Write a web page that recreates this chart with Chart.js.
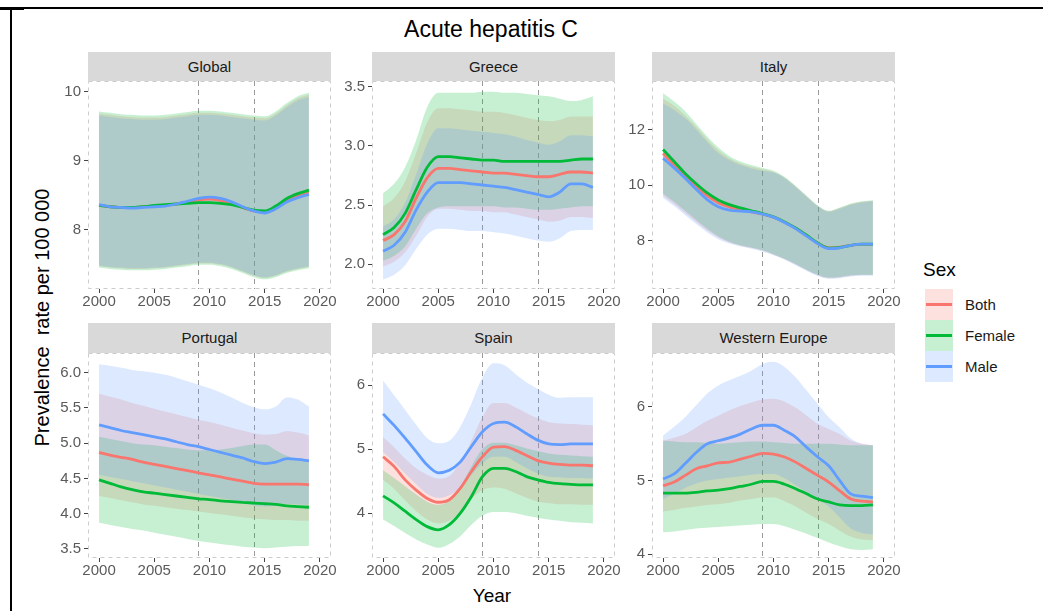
<!DOCTYPE html>
<html>
<head>
<meta charset="utf-8">
<script src="https://cdn.jsdelivr.net/npm/chart.js@4.4.1/dist/chart.umd.min.js"></script>
<style>
  body { margin: 0; background: #fff; width: 1043px; height: 611px; overflow: hidden; position: relative;
         font-family: "Liberation Sans", Arial, sans-serif; }
  .abs { position: absolute; }
  .strip { position: absolute; background: #d9d9d9; color: #1a1a1a; font-size: 15px; text-align: center; }
  canvas { position: absolute; }
  .lbl { position: absolute; color: #1a1a1a; font-size: 15px; white-space: pre; }
</style>
</head>
<body>
<div class="abs" style="left:0;top:7px;width:1043px;height:2px;background:#000"></div>
<div class="abs" style="left:0;top:9px;width:24px;height:1px;background:#000"></div>
<div class="abs" style="left:10px;top:7px;width:2px;height:604px;background:#000"></div>
<div class="abs" id="title" style="left:291px;top:16px;width:400px;text-align:center;font-size:23px;color:#000">Acute hepatitis C</div>
<div class="abs" style="left:-108px;top:306px;width:300px;text-align:center;font-size:20px;color:#000;white-space:pre;transform:rotate(-90deg)">Prevalence  rate per 100 000</div>
<div class="abs" style="left:442px;top:585px;width:100px;text-align:center;font-size:19px;color:#000">Year</div>
<div class="abs" style="left:923px;top:259px;font-size:19px;color:#000">Sex</div>

<script>
const years = [2000,2001,2002,2003,2004,2005,2006,2007,2008,2009,2010,2011,2012,2013,2014,2015,2016,2017,2018,2019];
const xTicks = [2000, 2005, 2010, 2015, 2020];
const refYears = [2009, 2014];
const sexes = ['Both', 'Female', 'Male'];

// Global
const globalTicks = [8, 9, 10];
const globalBoth     = [8.35,8.33,8.32,8.32,8.33,8.34,8.35,8.37,8.40,8.43,8.44,8.42,8.38,8.32,8.27,8.25,8.32,8.42,8.48,8.53];
const globalBothLo   = [7.47,7.45,7.44,7.43,7.43,7.44,7.45,7.47,7.49,7.51,7.51,7.49,7.45,7.39,7.33,7.30,7.33,7.39,7.43,7.46];
const globalBothHi   = [9.68,9.66,9.64,9.63,9.62,9.62,9.63,9.65,9.67,9.69,9.69,9.68,9.66,9.64,9.62,9.61,9.68,9.80,9.90,9.95];
const globalFemale   = [8.35,8.33,8.32,8.32,8.33,8.35,8.36,8.37,8.38,8.39,8.39,8.38,8.36,8.32,8.28,8.27,8.34,8.45,8.52,8.57];
const globalFemaleLo = [7.45,7.43,7.42,7.41,7.41,7.42,7.43,7.45,7.47,7.49,7.49,7.47,7.43,7.37,7.31,7.28,7.31,7.37,7.41,7.44];
const globalFemaleHi = [9.71,9.69,9.67,9.66,9.65,9.65,9.66,9.68,9.70,9.72,9.72,9.71,9.69,9.67,9.65,9.64,9.71,9.83,9.93,9.98];
const globalMale     = [8.36,8.33,8.32,8.31,8.32,8.33,8.34,8.37,8.41,8.45,8.47,8.45,8.40,8.33,8.27,8.24,8.30,8.40,8.46,8.51];
const globalMaleLo   = [7.48,7.46,7.45,7.44,7.44,7.45,7.46,7.48,7.50,7.52,7.52,7.50,7.46,7.40,7.34,7.31,7.34,7.40,7.44,7.47];
const globalMaleHi   = [9.65,9.63,9.61,9.60,9.59,9.59,9.60,9.62,9.64,9.66,9.66,9.65,9.63,9.61,9.59,9.58,9.65,9.77,9.87,9.92];

// Greece
const greeceTicks = [2.0, 2.5, 3.0, 3.5];
const greeceBoth     = [2.20,2.25,2.36,2.56,2.73,2.81,2.81,2.80,2.79,2.78,2.77,2.77,2.76,2.75,2.74,2.74,2.76,2.78,2.78,2.77];
const greeceBothLo   = [1.98,2.02,2.10,2.24,2.40,2.47,2.47,2.46,2.45,2.45,2.44,2.44,2.42,2.40,2.38,2.36,2.37,2.40,2.40,2.39];
const greeceBothHi   = [2.49,2.56,2.70,2.94,3.20,3.32,3.32,3.31,3.30,3.29,3.29,3.28,3.26,3.24,3.22,3.21,3.22,3.25,3.25,3.25];
const greeceFemale   = [2.25,2.31,2.43,2.63,2.82,2.91,2.91,2.90,2.89,2.88,2.88,2.87,2.87,2.87,2.87,2.87,2.87,2.88,2.89,2.89];
const greeceFemaleLo = [2.03,2.07,2.15,2.30,2.43,2.48,2.49,2.49,2.49,2.49,2.49,2.48,2.48,2.47,2.46,2.46,2.47,2.48,2.49,2.49];
const greeceFemaleHi = [2.60,2.68,2.82,3.05,3.33,3.45,3.45,3.45,3.45,3.46,3.46,3.45,3.45,3.44,3.43,3.42,3.40,3.38,3.39,3.42];
const greeceMale     = [2.11,2.16,2.27,2.46,2.61,2.69,2.69,2.69,2.68,2.67,2.66,2.65,2.63,2.61,2.59,2.57,2.61,2.68,2.68,2.65];
const greeceMaleLo   = [1.87,1.91,1.99,2.13,2.25,2.30,2.30,2.29,2.28,2.28,2.27,2.26,2.24,2.22,2.20,2.19,2.22,2.28,2.29,2.29];
const greeceMaleHi   = [2.32,2.38,2.52,2.76,3.02,3.15,3.15,3.14,3.13,3.12,3.11,3.10,3.08,3.05,3.03,3.01,3.04,3.09,3.09,3.08];

// Italy
const italyTicks = [8, 10, 12];
const italyBoth     = [11.14,10.72,10.30,9.94,9.62,9.37,9.22,9.12,9.04,8.96,8.85,8.67,8.45,8.19,7.92,7.75,7.77,7.84,7.87,7.87];
const italyBothLo   = [9.62,9.32,9.00,8.68,8.37,8.11,7.94,7.82,7.74,7.64,7.50,7.34,7.15,6.94,6.76,6.66,6.68,6.74,6.77,6.77];
const italyBothHi   = [13.10,12.85,12.50,12.10,11.65,11.25,10.97,10.78,10.66,10.57,10.48,10.27,9.95,9.60,9.26,9.06,9.18,9.32,9.40,9.44];
const italyFemale   = [11.28,10.85,10.42,10.05,9.72,9.47,9.30,9.18,9.08,8.98,8.86,8.68,8.46,8.20,7.92,7.74,7.76,7.84,7.88,7.88];
const italyFemaleLo = [9.70,9.40,9.08,8.75,8.43,8.16,7.97,7.84,7.76,7.66,7.52,7.36,7.17,6.96,6.78,6.68,6.70,6.76,6.78,6.78];
const italyFemaleHi = [13.30,13.00,12.65,12.20,11.75,11.35,11.05,10.85,10.72,10.62,10.52,10.30,9.98,9.62,9.28,9.08,9.20,9.34,9.42,9.46];
const italyMale     = [10.96,10.62,10.25,9.85,9.48,9.22,9.10,9.07,9.04,8.96,8.85,8.66,8.44,8.17,7.90,7.72,7.75,7.84,7.88,7.88];
const italyMaleLo   = [9.55,9.25,8.93,8.60,8.30,8.06,7.90,7.80,7.72,7.62,7.48,7.32,7.12,6.92,6.74,6.64,6.66,6.72,6.75,6.75];
const italyMaleHi   = [12.93,12.70,12.40,12.00,11.55,11.15,10.90,10.72,10.60,10.52,10.45,10.25,9.93,9.57,9.24,9.04,9.15,9.30,9.38,9.42];

// Portugal
const portugalTicks = [3.5, 4.0, 4.5, 5.0, 5.5, 6.0];
const portugalBoth     = [4.87,4.83,4.80,4.77,4.73,4.70,4.67,4.64,4.61,4.58,4.55,4.52,4.49,4.46,4.43,4.42,4.42,4.42,4.42,4.41];
const portugalBothLo   = [4.25,4.22,4.19,4.16,4.13,4.11,4.09,4.07,4.05,4.03,4.01,3.99,3.97,3.95,3.93,3.92,3.91,3.91,3.90,3.90];
const portugalBothHi   = [5.70,5.66,5.62,5.57,5.53,5.49,5.45,5.41,5.37,5.33,5.30,5.26,5.22,5.18,5.14,5.12,5.13,5.17,5.15,5.11];
const portugalFemale   = [4.48,4.43,4.38,4.34,4.31,4.29,4.27,4.25,4.23,4.21,4.20,4.18,4.17,4.16,4.15,4.14,4.13,4.11,4.10,4.09];
const portugalFemaleLo = [3.87,3.84,3.81,3.78,3.76,3.73,3.70,3.67,3.64,3.61,3.59,3.57,3.55,3.53,3.52,3.51,3.52,3.53,3.54,3.54];
const portugalFemaleHi = [5.09,5.06,5.03,5.00,4.98,4.97,4.95,4.93,4.91,4.90,4.90,4.91,4.93,4.96,4.98,4.98,4.90,4.82,4.77,4.73];
const portugalMale     = [5.26,5.22,5.18,5.15,5.12,5.09,5.06,5.02,4.98,4.95,4.91,4.87,4.83,4.79,4.74,4.71,4.73,4.78,4.77,4.75];
const portugalMaleLo   = [4.55,4.52,4.49,4.46,4.43,4.40,4.37,4.34,4.31,4.28,4.25,4.22,4.19,4.16,4.12,4.10,4.11,4.14,4.13,4.12];
const portugalMaleHi   = [6.12,6.10,6.07,6.04,6.02,6.00,5.97,5.93,5.88,5.83,5.78,5.72,5.65,5.57,5.51,5.48,5.52,5.65,5.62,5.52];

// Spain
const spainTicks = [4, 5, 6];
const spainBoth     = [4.88,4.73,4.52,4.36,4.23,4.17,4.21,4.39,4.65,4.88,5.03,5.04,4.98,4.90,4.82,4.78,4.76,4.75,4.75,4.74];
const spainBothLo   = [4.52,4.38,4.20,4.03,3.90,3.84,3.88,4.02,4.22,4.36,4.40,4.38,4.31,4.24,4.18,4.16,4.14,4.14,4.13,4.13];
const spainBothHi   = [5.19,5.03,4.85,4.70,4.60,4.54,4.58,4.80,5.13,5.50,5.72,5.72,5.65,5.56,5.48,5.42,5.40,5.39,5.38,5.37];
const spainFemale   = [4.27,4.16,4.03,3.90,3.79,3.74,3.82,4.00,4.26,4.57,4.70,4.70,4.65,4.57,4.52,4.48,4.46,4.45,4.44,4.44];
const spainFemaleLo = [3.90,3.80,3.69,3.59,3.51,3.46,3.52,3.64,3.82,3.96,4.02,4.02,4.00,3.96,3.93,3.90,3.88,3.86,3.85,3.84];
const spainFemaleHi = [4.67,4.55,4.42,4.29,4.18,4.13,4.20,4.42,4.73,5.00,5.10,5.10,5.06,5.01,4.97,4.93,4.91,4.90,4.89,4.88];
const spainMale     = [5.55,5.37,5.17,4.96,4.75,4.63,4.67,4.80,5.04,5.27,5.40,5.42,5.35,5.24,5.14,5.08,5.07,5.08,5.08,5.08];
const spainMaleLo   = [4.95,4.80,4.62,4.45,4.30,4.24,4.28,4.40,4.60,4.78,4.88,4.88,4.80,4.70,4.62,4.57,4.56,4.55,4.55,4.54];
const spainMaleHi   = [6.07,5.84,5.61,5.38,5.17,5.09,5.13,5.35,5.71,6.12,6.34,6.31,6.17,6.04,5.94,5.85,5.80,5.81,5.81,5.81];

// Western Europe
const westTicks = [4, 5, 6];
const westBoth     = [4.93,4.98,5.07,5.16,5.20,5.24,5.25,5.29,5.33,5.37,5.36,5.32,5.25,5.16,5.07,4.98,4.86,4.75,4.72,4.71];
const westBothLo   = [4.58,4.60,4.63,4.65,4.67,4.68,4.70,4.73,4.75,4.77,4.77,4.72,4.65,4.56,4.48,4.41,4.32,4.24,4.20,4.19];
const westBothHi   = [5.54,5.58,5.63,5.72,5.81,5.88,5.95,6.01,6.06,6.10,6.11,6.07,5.99,5.88,5.77,5.70,5.63,5.54,5.50,5.48];
const westFemale   = [4.83,4.83,4.83,4.84,4.86,4.87,4.89,4.92,4.95,4.99,4.99,4.95,4.89,4.82,4.75,4.71,4.67,4.66,4.66,4.67];
const westFemaleLo = [4.30,4.31,4.33,4.35,4.36,4.37,4.38,4.39,4.40,4.41,4.41,4.38,4.33,4.28,4.22,4.16,4.11,4.07,4.06,4.07];
const westFemaleHi = [5.54,5.53,5.52,5.52,5.51,5.50,5.51,5.52,5.53,5.53,5.52,5.51,5.50,5.50,5.50,5.50,5.49,5.48,5.48,5.48];
const westMale     = [5.02,5.09,5.23,5.38,5.50,5.54,5.58,5.63,5.70,5.75,5.75,5.68,5.59,5.45,5.32,5.20,5.00,4.82,4.79,4.77];
const westMaleLo   = [4.75,4.82,4.90,4.96,5.00,5.02,5.04,5.06,5.08,5.09,5.09,5.03,4.94,4.84,4.74,4.65,4.50,4.35,4.29,4.27];
const westMaleHi   = [5.61,5.73,5.86,6.02,6.18,6.29,6.36,6.42,6.49,6.58,6.61,6.54,6.40,6.22,6.04,5.86,5.72,5.57,5.50,5.48];

const sexColors = ['248,118,109', '0,186,56', '97,156,255'];
const FONT = '"Liberation Sans", Arial, sans-serif';
const padL = 52, padT = 8, padR = 16, padB = 24;

const panelDeco = {
  id: 'panelDeco',
  beforeDatasetsDraw(chart) {
    const { ctx, chartArea: a, scales: { x } } = chart;
    ctx.save();
    ctx.lineWidth = 1;
    ctx.setLineDash([4, 4]);
    ctx.strokeStyle = '#cccccc';
    ctx.strokeRect(a.left + 0.5, a.top + 0.5, a.right - a.left - 1, a.bottom - a.top - 1);
    ctx.setLineDash([5, 4]);
    ctx.strokeStyle = '#9a9a9a';
    refYears.forEach(yr => {
      const px = Math.round(x.getPixelForValue(yr)) + 0.5;
      ctx.beginPath();
      ctx.moveTo(px, a.top);
      ctx.lineTo(px, a.bottom);
      ctx.stroke();
    });
    ctx.restore();
  }
};

function makePanel(p) {
  const strip = document.createElement('div');
  strip.className = 'strip';
  Object.assign(strip.style, {
    left: p.L + 'px', top: p.S + 'px', width: (p.R - p.L) + 'px',
    height: (p.T - p.S) + 'px', lineHeight: (p.T - p.S) + 'px'
  });
  strip.textContent = p.title;
  document.body.appendChild(strip);

  const w = p.R - p.L + padL + padR, h = p.B - p.T + padT + padB;
  const cv = document.createElement('canvas');
  cv.width = w; cv.height = h;
  Object.assign(cv.style, { left: (p.L - padL) + 'px', top: (p.T - padT) + 'px', width: w + 'px', height: h + 'px' });
  document.body.appendChild(cv);

  const pts = arr => years.map((x, k) => ({ x, y: arr[k] }));
  const datasets = [];
  p.series.forEach((s, i) => {
    datasets.push({ data: pts(s[1]), borderWidth: 0, pointRadius: 0, fill: false,
      cubicInterpolationMode: 'monotone', order: 13 - i });
    datasets.push({ data: pts(s[2]), borderWidth: 0, pointRadius: 0, fill: '-1',
      backgroundColor: `rgba(${sexColors[i]},0.22)`, cubicInterpolationMode: 'monotone', order: 13 - i });
  });
  p.series.forEach((s, i) => {
    datasets.push({ data: pts(s[0]), borderColor: `rgb(${sexColors[i]})`, borderWidth: 2.8,
      pointRadius: 0, fill: false, cubicInterpolationMode: 'monotone', order: 3 - i });
  });

  const axisCommon = {
    border: { display: false },
    grid: { drawOnChartArea: false, drawTicks: true, tickLength: 4, tickColor: '#444', tickWidth: 1 },
  };

  new Chart(cv, {
    type: 'line',
    data: { datasets },
    options: {
      responsive: false, animation: false, devicePixelRatio: 1,
      layout: { padding: { left: 0, top: padT, right: padR, bottom: 0 } },
      plugins: { legend: { display: false }, tooltip: { enabled: false } },
      scales: {
        x: {
          ...axisCommon, type: 'linear', min: 1999, max: 2021,
          afterBuildTicks: s => { s.ticks = xTicks.map(v => ({ value: v })); },
          afterFit: s => { s.height = padB; s.paddingLeft = 0; s.paddingRight = 0; },
          ticks: { color: '#5a5a5a', font: { size: 15, family: FONT }, padding: 0, autoSkip: false,
            maxRotation: 0, callback: v => String(v) }
        },
        y: {
          ...axisCommon, type: 'linear', min: p.yMin, max: p.yMax,
          afterBuildTicks: s => { s.ticks = p.yTicks.map(v => ({ value: v })); },
          afterFit: s => { s.width = padL; s.paddingTop = 0; s.paddingBottom = 0; },
          ticks: { color: '#5a5a5a', font: { size: 15, family: FONT }, padding: 3, autoSkip: false,
            callback: v => v.toFixed(p.dec) }
        }
      }
    },
    plugins: [panelDeco]
  });
}

const row1 = { S: 52, T: 81, B: 289 }, row2 = { S: 323, T: 353, B: 558 };
const col1 = { L: 88, R: 331 }, col2 = { L: 372, R: 615 }, col3 = { L: 652, R: 895 };

[
  { ...row1, ...col1, title: 'Global', yMin: 7.14, yMax: 10.15, yTicks: globalTicks, dec: 0,
    series: [[globalBoth, globalBothLo, globalBothHi], [globalFemale, globalFemaleLo, globalFemaleHi], [globalMale, globalMaleLo, globalMaleHi]] },
  { ...row1, ...col2, title: 'Greece', yMin: 1.79, yMax: 3.55, yTicks: greeceTicks, dec: 1,
    series: [[greeceBoth, greeceBothLo, greeceBothHi], [greeceFemale, greeceFemaleLo, greeceFemaleHi], [greeceMale, greeceMaleLo, greeceMaleHi]] },
  { ...row1, ...col3, title: 'Italy', yMin: 6.27, yMax: 13.74, yTicks: italyTicks, dec: 0,
    series: [[italyBoth, italyBothLo, italyBothHi], [italyFemale, italyFemaleLo, italyFemaleHi], [italyMale, italyMaleLo, italyMaleHi]] },
  { ...row2, ...col1, title: 'Portugal', yMin: 3.37, yMax: 6.28, yTicks: portugalTicks, dec: 1,
    series: [[portugalBoth, portugalBothLo, portugalBothHi], [portugalFemale, portugalFemaleLo, portugalFemaleHi], [portugalMale, portugalMaleLo, portugalMaleHi]] },
  { ...row2, ...col2, title: 'Spain', yMin: 3.30, yMax: 6.50, yTicks: spainTicks, dec: 0,
    series: [[spainBoth, spainBothLo, spainBothHi], [spainFemale, spainFemaleLo, spainFemaleHi], [spainMale, spainMaleLo, spainMaleHi]] },
  { ...row2, ...col3, title: 'Western Europe', yMin: 3.95, yMax: 6.73, yTicks: westTicks, dec: 0,
    series: [[westBoth, westBothLo, westBothHi], [westFemale, westFemaleLo, westFemaleHi], [westMale, westMaleLo, westMaleHi]] },
].forEach(makePanel);

// legend
sexes.forEach((name, i) => {
  const top = 289 + i * 31;
  const key = document.createElement('div');
  key.className = 'abs';
  Object.assign(key.style, { left: '925px', top: top + 'px', width: '28px', height: '31px',
    background: `rgba(${sexColors[i]},0.22)` });
  const line = document.createElement('div');
  line.className = 'abs';
  Object.assign(line.style, { left: '1px', top: '14px', width: '26px', height: '3px', background: `rgb(${sexColors[i]})` });
  key.appendChild(line);
  document.body.appendChild(key);
  const lbl = document.createElement('div');
  lbl.className = 'lbl';
  Object.assign(lbl.style, { left: '965px', top: top + 'px', lineHeight: '31px' });
  lbl.textContent = name;
  document.body.appendChild(lbl);
});
</script>
</body>
</html>
